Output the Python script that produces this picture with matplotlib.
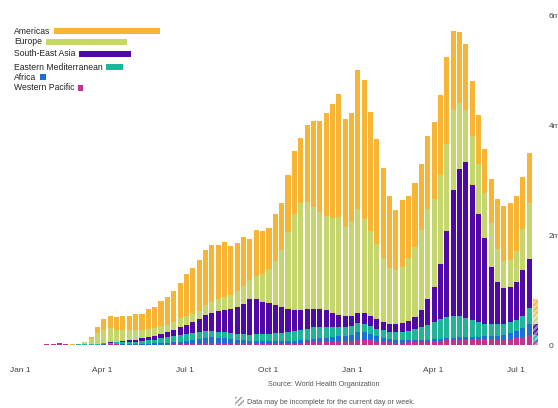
import matplotlib
matplotlib.use("Agg")
import matplotlib.pyplot as plt
import matplotlib.dates as mdates
from matplotlib.patches import Rectangle
from matplotlib.transforms import IdentityTransform
import numpy as np
import pandas as pd

plt.rcParams['font.family'] = ['Liberation Sans', 'DejaVu Sans']

# ---------------- data (weekly new cases, millions) ----------------
week_start = pd.date_range('2020-01-06', periods=80, freq='W-MON')
incomplete_week = pd.Timestamp('2021-07-19')

regions = ['Americas', 'Europe', 'South-East Asia', 'Eastern Mediterranean',
           'Africa', 'Western Pacific']

western_pacific = [
    0.0005, 0.002, 0.008, 0.02, 0.025, 0.03, 0.012, 0.005, 0.006, 0.004,
    0.005, 0.006, 0.008, 0.01, 0.01, 0.008, 0.006, 0.006, 0.005, 0.006,
    0.007, 0.008, 0.009, 0.01, 0.012, 0.014, 0.018, 0.022, 0.03, 0.038,
    0.045, 0.045, 0.042, 0.04, 0.038, 0.035, 0.033, 0.032, 0.03, 0.03,
    0.03, 0.032, 0.035, 0.04, 0.048, 0.055, 0.06, 0.065, 0.07, 0.075,
    0.075, 0.08, 0.095, 0.1, 0.085, 0.07, 0.06, 0.05, 0.045, 0.045,
    0.048, 0.05, 0.055, 0.06, 0.068, 0.075, 0.085, 0.095, 0.1, 0.105,
    0.11, 0.11, 0.11, 0.105, 0.1, 0.1, 0.105, 0.12, 0.145, 0.18]

africa = [
    0, 0, 0, 0, 0, 0, 0, 0, 0.0002, 0.0005,
    0.001, 0.003, 0.004, 0.006, 0.006, 0.008, 0.01, 0.012, 0.014, 0.018,
    0.022, 0.025, 0.03, 0.04, 0.048, 0.058, 0.07, 0.085, 0.095, 0.1,
    0.09, 0.08, 0.07, 0.06, 0.05, 0.045, 0.04, 0.038, 0.035, 0.035,
    0.035, 0.037, 0.04, 0.045, 0.05, 0.055, 0.06, 0.065, 0.07, 0.08,
    0.095, 0.11, 0.14, 0.13, 0.11, 0.09, 0.075, 0.06, 0.05, 0.045,
    0.042, 0.04, 0.04, 0.04, 0.04, 0.04, 0.038, 0.037, 0.037, 0.037,
    0.038, 0.04, 0.045, 0.055, 0.07, 0.09, 0.11, 0.14, 0.17, 0.2]

eastern_med = [
    0, 0, 0, 0.0005, 0.001, 0.001, 0.001, 0.002, 0.006, 0.012,
    0.01, 0.015, 0.02, 0.025, 0.03, 0.035, 0.04, 0.045, 0.055, 0.06,
    0.07, 0.09, 0.1, 0.11, 0.125, 0.13, 0.13, 0.13, 0.125, 0.12,
    0.11, 0.105, 0.1, 0.1, 0.105, 0.11, 0.12, 0.13, 0.14, 0.15,
    0.16, 0.17, 0.18, 0.19, 0.2, 0.21, 0.21, 0.2, 0.19, 0.175,
    0.165, 0.16, 0.16, 0.16, 0.15, 0.14, 0.13, 0.13, 0.14, 0.15,
    0.17, 0.2, 0.23, 0.27, 0.31, 0.35, 0.38, 0.4, 0.39, 0.35,
    0.3, 0.26, 0.23, 0.22, 0.21, 0.2, 0.2, 0.2, 0.22, 0.3]

south_east_asia = [
    0, 0, 0, 0, 0, 0, 0, 0, 0.0001, 0.0005,
    0.001, 0.003, 0.008, 0.01, 0.015, 0.02, 0.03, 0.035, 0.045, 0.055,
    0.065, 0.085, 0.1, 0.12, 0.145, 0.16, 0.2, 0.23, 0.3, 0.33,
    0.375, 0.41, 0.44, 0.49, 0.56, 0.64, 0.65, 0.59, 0.555, 0.515,
    0.46, 0.42, 0.38, 0.36, 0.35, 0.34, 0.33, 0.3, 0.26, 0.22,
    0.185, 0.17, 0.18, 0.19, 0.18, 0.17, 0.16, 0.14, 0.14, 0.16,
    0.18, 0.22, 0.32, 0.46, 0.63, 1.0, 1.57, 2.29, 2.68, 2.83,
    2.46, 1.98, 1.56, 1.04, 0.77, 0.64, 0.645, 0.69, 0.825, 0.88]

europe = [
    0, 0, 0, 0.0002, 0.0005, 0.001, 0.001, 0.002, 0.01, 0.035,
    0.09, 0.19, 0.24, 0.25, 0.22, 0.21, 0.19, 0.18, 0.15, 0.15,
    0.14, 0.14, 0.13, 0.14, 0.16, 0.16, 0.16, 0.16, 0.17, 0.19,
    0.21, 0.23, 0.26, 0.29, 0.32, 0.36, 0.42, 0.5, 0.62, 0.8,
    1.05, 1.4, 1.75, 1.95, 1.95, 1.85, 1.75, 1.72, 1.72, 1.78,
    1.63, 1.72, 1.9, 1.71, 1.55, 1.36, 1.16, 1.02, 0.98, 1.02,
    1.15, 1.27, 1.45, 1.65, 1.6, 1.62, 1.58, 1.45, 1.2, 0.95,
    0.89, 0.9, 0.82, 0.8, 0.6, 0.5, 0.48, 0.56, 0.75, 1.02]

americas = [
    0, 0, 0, 0, 0.0001, 0.0002, 0.0005, 0.001, 0.002, 0.005,
    0.03, 0.11, 0.2, 0.22, 0.22, 0.24, 0.25, 0.28, 0.3, 0.36,
    0.38, 0.46, 0.5, 0.56, 0.63, 0.77, 0.83, 0.92, 1.0, 1.04,
    0.98, 1.0, 0.89, 0.87, 0.89, 0.73, 0.82, 0.78, 0.74, 0.85,
    0.845, 1.03, 1.145, 1.185, 1.4, 1.56, 1.66, 1.86, 2.08, 2.23,
    1.96, 1.97, 2.525, 2.53, 2.155, 1.92, 1.625, 1.31, 1.095, 1.22,
    1.12, 1.16, 1.195, 1.32, 1.4, 1.465, 1.587, 1.43, 1.29, 1.2,
    1.0, 0.9, 0.795, 0.79, 0.9, 1.0, 1.05, 1.0, 0.95, 0.92]

# incomplete current week (Americas, Europe, SEA, EMed, Africa, WP)
incomplete_values = [0.26, 0.19, 0.21, 0.08, 0.05, 0.05]

# cumulative totals (millions) shown as legend bars
legend_totals = [74.0, 57.2, 36.3, 11.6, 4.2, 3.7]

colors = ['#F8B535', '#C6D66E', '#5008A8', '#20B499', '#1C6FD6', '#C0338E']

tick_dates = pd.to_datetime(['2020-01-01', '2020-04-01', '2020-07-01', '2020-10-01',
                             '2021-01-01', '2021-04-01', '2021-07-01'])
tick_labels = ['Jan 1', 'Apr 1', 'Jul 1', 'Oct 1', 'Jan 1', 'Apr 1', 'Jul 1']
y_ticks = [0, 2, 4, 6]
y_labels = ['0', '2m', '4m', '6m']

# ---------------- figure ----------------
W, H = 558, 408
fig = plt.figure(figsize=(W / 100, H / 100), dpi=100)
ax = fig.add_axes([10 / W, 63 / H, 530 / W, 330 / H])

x0 = mdates.date2num(pd.Timestamp('2020-01-01'))
px_per_day = 0.907
ax.set_xlim(x0 + (10 - 20) / px_per_day, x0 + (540 - 20) / px_per_day)
ax.set_ylim(0, 6)

centers = mdates.date2num(week_start) + 3.5
series = [americas, europe, south_east_asia, eastern_med, africa, western_pacific]
stack_order = list(range(5, -1, -1))  # WP bottom ... Americas top
bottom = np.zeros(len(centers))
for k in stack_order:
    vals = np.array(series[k])
    ax.bar(centers, vals, bottom=bottom, width=5.6, color=colors[k],
           linewidth=0)
    bottom += vals

# incomplete week, hatched
plt.rcParams['hatch.linewidth'] = 1.0
inc_center = mdates.date2num(incomplete_week) + 3.5
b = 0.0
for k in stack_order:
    c = np.array(matplotlib.colors.to_rgb(colors[k]))
    light = 1 - 0.55 * (1 - c)
    ax.bar([inc_center], [incomplete_values[k]], bottom=[b], width=5.6,
           facecolor=light, edgecolor=colors[k], hatch='//////', linewidth=0)
    b += incomplete_values[k]

for s in ax.spines.values():
    s.set_visible(False)
ax.set_xticks(mdates.date2num(tick_dates))
ax.set_xticklabels(tick_labels)
ax.set_yticks(y_ticks)
ax.set_yticklabels(y_labels)
ax.yaxis.tick_right()
ax.tick_params(axis='x', length=0, pad=16, labelsize=6, labelcolor='#444444')
ax.tick_params(axis='y', length=0, pad=6.5, labelsize=6, labelcolor='#444444')
for lbl in ax.get_yticklabels():
    lbl.set_horizontalalignment('left')

# ---------------- legend with cumulative bars ----------------
legend_y = [31, 42, 54, 67, 77, 88]
legend_x = 14
px_per_million = 106 / 74.0
renderer = fig.canvas.get_renderer()
for name, total, yv, col in zip(regions, legend_totals, legend_y, colors):
    t = fig.text(legend_x / W, 1 - yv / H, name, fontsize=6.2, color='#222222',
                 ha='left', va='center')
    bb = t.get_window_extent(renderer=renderer)
    h = 5.5
    rect = Rectangle((bb.x1 + 3.5, H - yv - h / 2), total * px_per_million, h,
                     facecolor=col, edgecolor='none', transform=IdentityTransform())
    fig.patches.append(rect)

# ---------------- source & footnote ----------------
fig.text(324 / W, 1 - 384 / H, 'Source: World Health Organization', fontsize=5.2,
         color='#555555', ha='center', va='center')
fig.text(247 / W, 1 - 402 / H, 'Data may be incomplete for the current day or week.',
         fontsize=5.2, color='#555555', ha='left', va='center')
icon = Rectangle((235, H - 406), 9, 9, facecolor='white', edgecolor='#9a9a9a',
                 hatch='//////', linewidth=0, transform=IdentityTransform())
fig.patches.append(icon)

fig.savefig('out.png', dpi=100)
